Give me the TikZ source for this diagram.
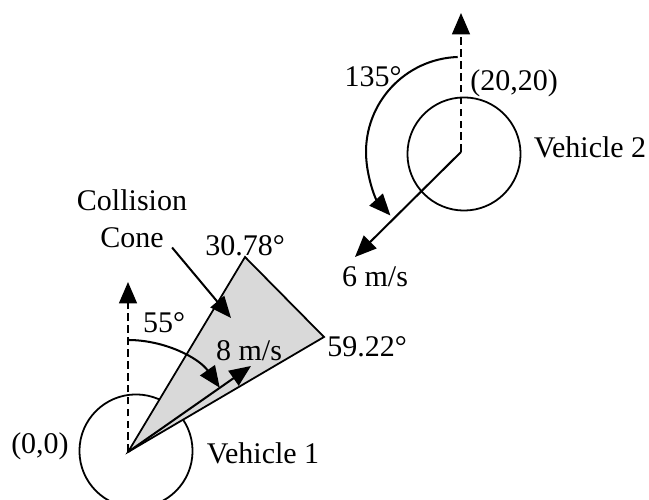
\documentclass[tikz,border=0pt]{standalone}
\usepackage{fontspec}
\setmainfont{Liberation Serif}
\usetikzlibrary{arrows.meta}

\begin{document}
\begin{tikzpicture}[
    x=0.42pt, y=0.42pt,
    vehicle/.style={circle, draw, line width=0.75pt, minimum size=47.5pt, inner sep=0pt},
    arrow/.style={-{Triangle[length=9pt, width=7.5pt]}, line width=0.85pt},
    heading/.style={arrow, dash pattern=on 3.2pt off 1.8pt},
    conefill/.style={draw, line width=0.75pt, fill=black!15},
    txt/.style={font=\fontsize{12.6}{15}\selectfont},
]

\useasboundingbox (0,0) rectangle (649,500);
\clip (0,0) rectangle (649,500);

% Vehicle 1 - circle, heading and collision cone
\coordinate (o1) at (128,48);
\coordinate (n1) at (128,218);
\coordinate (c1) at (245,243);
\coordinate (c2) at (324,163);
\coordinate (a1) at (128,160);
\coordinate (s1) at (251,134);

\node[vehicle] (v1) at (136,49) {};
\draw[conefill] (o1) -- (c1) -- (c2) -- cycle;
\draw[heading] (o1) -- (n1);
\draw[arrow] (a1) arc[start angle=90, end angle=35, radius=112];
\draw[arrow] (o1) -- (s1);

\node[txt] (p1) at (40,54) {(0,0)};
\node[txt] (name1) at (263,47) {Vehicle 1};
\node[txt] (ang1) at (164,177) {55°};
\node[txt] (spd1) at (249,149) {8 m/s};
\node[txt] (ang2) at (245,254) {30.78°};
\node[txt] (ang3) at (367,153) {59.22°};

% Collision cone label
\coordinate (cctip) at (231,182);
\node[txt] (coll) at (132,300) {Collision};
\node[txt] (cone) at (132,262) {Cone};
\draw[arrow] ([yshift=-4pt]cone.east) -- (cctip);

% Vehicle 2 - circle and heading
\coordinate (o2) at (461,348);
\coordinate (n2) at (461,487);
\coordinate (a2) at (457.7,443);
\coordinate (s2) at (355,243);

\node[vehicle] (v2) at (464,346) {};
\draw[heading] (o2) -- (n2);
\draw[arrow] (a2) arc[start angle=92, end angle=222, radius=95];
\draw[arrow] (o2) -- (s2);

\node[txt] (ang4) at (373,423) {135°};
\node[txt] (p2) at (514,417) {(20,20)};
\node[txt] (name2) at (590,353) {Vehicle 2};
\node[txt] (spd2) at (375,223) {6 m/s};

\end{tikzpicture}
\end{document}
